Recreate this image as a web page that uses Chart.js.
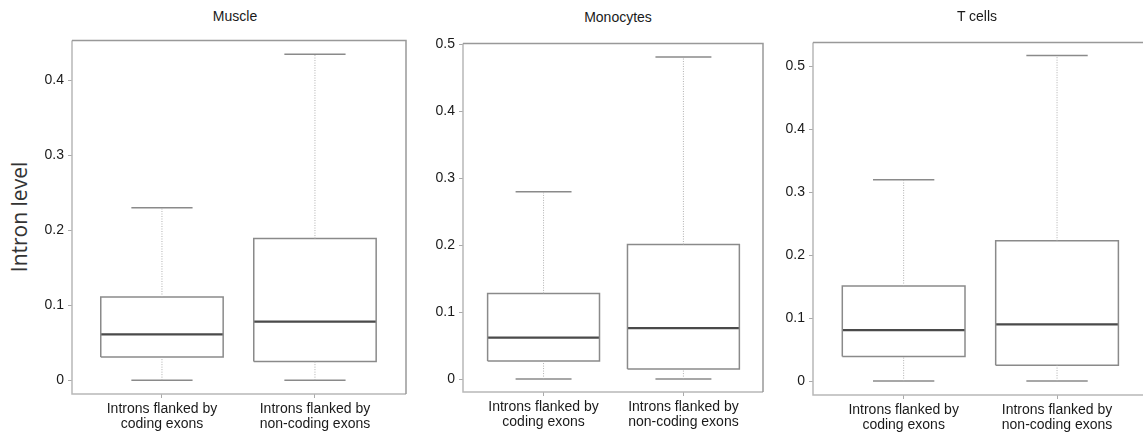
<!DOCTYPE html>
<html>
<head>
<meta charset="utf-8">
<script src="https://cdn.jsdelivr.net/npm/chart.js@4.4.1/dist/chart.umd.min.js"></script>
<style>
  html, body { margin:0; padding:0; background:#fff; width:1143px; height:436px; overflow:hidden; }
  body { position:relative; font-family:"Liberation Sans", Arial, sans-serif; }
  canvas { position:absolute; }
  .title { position:absolute; font-size:14px; color:#1a1a1a; transform:translate(-50%,-50%); white-space:nowrap; }
  #ylab { position:absolute; left:19px; top:217px; font-family:"Open Sans", sans-serif; font-size:21px; color:#333;
          transform:translate(-50%,-50%) rotate(-90deg); white-space:nowrap; }
</style>
</head>
<body>
<div id="ylab">Intron level</div>
<canvas id="c0"></canvas>
<canvas id="c1"></canvas>
<canvas id="c2"></canvas>
<script>
// ---------- data ----------
const categories = [["Introns flanked by", "coding exons"], ["Introns flanked by", "non-coding exons"]];
const panelTitles = ["Muscle", "Monocytes", "T cells"];

const muscleMin    = [0, 0];
const muscleQ1     = [0.031, 0.025];
const muscleMedian = [0.061, 0.078];
const muscleQ3     = [0.111, 0.189];
const muscleMax    = [0.230, 0.435];

const monoMin    = [0, 0];
const monoQ1     = [0.027, 0.015];
const monoMedian = [0.062, 0.076];
const monoQ3     = [0.128, 0.201];
const monoMax    = [0.280, 0.481];

const tcellMin    = [0, 0];
const tcellQ1     = [0.039, 0.025];
const tcellMedian = [0.081, 0.090];
const tcellQ3     = [0.151, 0.223];
const tcellMax    = [0.320, 0.517];

const muscleTicks = [0, 0.1, 0.2, 0.3, 0.4];
const muscleTickLabels = ["0", "0.1", "0.2", "0.3", "0.4"];
const monoTicks = [0, 0.1, 0.2, 0.3, 0.4, 0.5];
const monoTickLabels = ["0", "0.1", "0.2", "0.3", "0.4", "0.5"];
const tcellTicks = [0, 0.1, 0.2, 0.3, 0.4, 0.5];
const tcellTickLabels = ["0", "0.1", "0.2", "0.3", "0.4", "0.5"];

// ---------- layout ----------
const panels = [
  { title: panelTitles[0], min: muscleMin, q1: muscleQ1, med: muscleMedian, q3: muscleQ3, max: muscleMax,
    ticks: muscleTicks, tickLabels: muscleTickLabels,
    frame: { left: 72, top: 38, right: 406, bottom: 394 }, x: [0.412, 2.595], y: [-0.0185, 0.4535], titlePos: [235, 16] },
  { title: panelTitles[1], min: monoMin, q1: monoQ1, med: monoMedian, q3: monoQ3, max: monoMax,
    ticks: monoTicks, tickLabels: monoTickLabels,
    frame: { left: 463, top: 41, right: 763, bottom: 392 }, x: [0.424, 2.569], y: [-0.0193, 0.5015], titlePos: [618, 17] },
  { title: panelTitles[2], min: tcellMin, q1: tcellQ1, med: tcellMedian, q3: tcellQ3, max: tcellMax,
    ticks: tcellTicks, tickLabels: tcellTickLabels,
    frame: { left: 813, top: 40, right: 1146, bottom: 395 }, x: [0.409, 2.58], y: [-0.0221, 0.538], titlePos: [977, 16] }
];

const Y_AXIS_W = 50, X_AXIS_H = 42, PAD_TOP = 10, PAD_RIGHT = 2;
const BOX_HALF = 0.4, CAP_HALF = 0.2;

const framePlugin = {
  id: 'frame',
  afterDraw(chart) {
    const a = chart.chartArea, ctx = chart.ctx;
    ctx.save();
    ctx.lineWidth = 1.5;
    ctx.strokeStyle = '#b8b8b8';
    ctx.beginPath();
    ctx.moveTo(a.left, a.top); ctx.lineTo(a.left, a.bottom); ctx.lineTo(a.right, a.bottom);
    ctx.stroke();
    ctx.strokeStyle = '#999';
    ctx.beginPath();
    ctx.moveTo(a.left, a.top); ctx.lineTo(a.right, a.top); ctx.lineTo(a.right, a.bottom);
    ctx.stroke();
    ctx.restore();
  }
};

function buildDatasets(p) {
  const whisk = [], caps = [], boxes = [], meds = [];
  for (let i = 0; i < categories.length; i++) {
    const c = i + 1;
    whisk.push({x: c, y: p.q3[i]}, {x: c, y: p.max[i]}, {x: c, y: null},
               {x: c, y: p.min[i]}, {x: c, y: p.q1[i]}, {x: c, y: null});
    caps.push({x: c - CAP_HALF, y: p.max[i]}, {x: c + CAP_HALF, y: p.max[i]}, {x: c, y: null},
              {x: c - CAP_HALF, y: p.min[i]}, {x: c + CAP_HALF, y: p.min[i]}, {x: c, y: null});
    boxes.push({x: c - BOX_HALF, y: p.q1[i]}, {x: c + BOX_HALF, y: p.q1[i]}, {x: c + BOX_HALF, y: p.q3[i]},
               {x: c - BOX_HALF, y: p.q3[i]}, {x: c - BOX_HALF, y: p.q1[i]}, {x: c, y: null});
    meds.push({x: c - BOX_HALF, y: p.med[i]}, {x: c + BOX_HALF, y: p.med[i]}, {x: c, y: null});
  }
  const base = { type: 'line', pointRadius: 0, pointHoverRadius: 0, tension: 0, fill: false, spanGaps: false };
  return [
    Object.assign({}, base, { data: whisk, borderColor: '#b0b0b0', borderWidth: 1, borderDash: [1, 1.5] }),
    Object.assign({}, base, { data: caps, borderColor: '#8a8a8a', borderWidth: 1.5 }),
    Object.assign({}, base, { data: boxes, borderColor: '#8a8a8a', borderWidth: 1.5, borderJoinStyle: 'miter' }),
    Object.assign({}, base, { data: meds, borderColor: '#4a4a4a', borderWidth: 2.2 })
  ];
}

panels.forEach((p, idx) => {
  const f = p.frame;
  const cv = document.getElementById('c' + idx);
  const w = f.right - f.left + Y_AXIS_W + PAD_RIGHT;
  const h = f.bottom - f.top + PAD_TOP + X_AXIS_H;
  cv.width = w; cv.height = h;
  cv.style.width = w + 'px'; cv.style.height = h + 'px';
  cv.style.left = (f.left - Y_AXIS_W) + 'px';
  cv.style.top = (f.top - PAD_TOP) + 'px';

  const t = document.createElement('div');
  t.className = 'title';
  t.textContent = p.title;
  t.style.left = p.titlePos[0] + 'px';
  t.style.top = p.titlePos[1] + 'px';
  document.body.appendChild(t);

  new Chart(cv, {
    type: 'line',
    data: { datasets: buildDatasets(p) },
    options: {
      responsive: false,
      animation: false,
      events: [],
      layout: { padding: { top: PAD_TOP, right: PAD_RIGHT, left: 0, bottom: 0 } },
      plugins: { legend: { display: false }, tooltip: { enabled: false }, title: { display: false } },
      scales: {
        x: {
          type: 'linear', min: p.x[0], max: p.x[1],
          afterBuildTicks(s) { s.ticks = categories.map((_, i) => ({ value: i + 1 })); },
          afterFit(s) { s.height = X_AXIS_H; },
          ticks: {
            autoSkip: false, maxRotation: 0, padding: 3,
            color: '#1a1a1a', font: { family: 'Liberation Sans', size: 14, lineHeight: 1.1 },
            callback: (v) => categories[Math.round(v) - 1]
          },
          grid: { display: true, drawOnChartArea: false, drawTicks: true, tickLength: 4, color: '#aaa' },
          border: { display: false }
        },
        y: {
          type: 'linear', min: p.y[0], max: p.y[1],
          afterBuildTicks(s) { s.ticks = p.ticks.map(v => ({ value: v })); },
          afterFit(s) { s.width = Y_AXIS_W; },
          ticks: {
            padding: 4, color: '#1a1a1a', font: { family: 'Liberation Sans', size: 14 },
            callback: (v) => { const k = p.ticks.findIndex(tk => Math.abs(tk - v) < 1e-9); return k >= 0 ? p.tickLabels[k] : ''; }
          },
          grid: { display: true, drawOnChartArea: false, drawTicks: true, tickLength: 4, color: '#aaa' },
          border: { display: false }
        }
      }
    },
    plugins: [framePlugin]
  });
});
</script>
</body>
</html>
